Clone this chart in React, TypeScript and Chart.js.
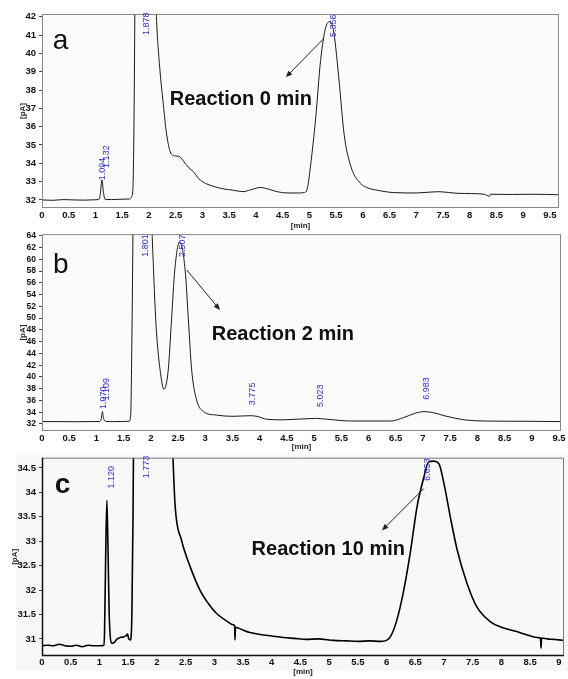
import React, { useEffect, useRef } from "react";
import { Chart, registerables } from "chart.js";

Chart.register(...registerables);

const FONT = '"Liberation Sans", Arial, Helvetica, sans-serif';

// ---------------- Panel a : Reaction 0 min ----------------
const timeA = [
  0.0, 0.2, 0.4, 0.6, 0.8, 1.0, 1.06, 1.09, 1.12, 1.15, 1.18, 1.3, 1.5, 1.64, 1.68, 1.7, 1.72, 1.74, 1.8, 1.9,
  2.0, 2.1, 2.14, 2.2, 2.27, 2.33, 2.42, 2.5, 2.58, 2.65, 2.75, 2.83, 2.92, 3.01, 3.2, 3.4, 3.58, 3.76, 3.9, 4.08,
  4.25, 4.4, 4.6, 4.8, 4.9, 4.96, 5.02, 5.12, 5.21, 5.31, 5.39, 5.46, 5.56, 5.65, 5.78, 5.96, 6.1, 6.27, 6.59, 7.0,
  7.4, 7.8, 8.27, 8.37, 8.39, 8.8, 9.2, 9.68,
];
const signalA = [
  32.0, 31.98, 32.02, 32.0, 31.99, 32.01, 32.02, 32.3, 33.1, 32.4, 32.03, 32.02, 32.04, 32.05, 32.2, 32.6, 36.0, 44.0, 80.0, 95.0,
  75.0, 46.0, 42.0, 39.3, 37.2, 35.6, 34.5, 34.4, 34.35, 34.1, 33.75, 33.55, 33.2, 32.98, 32.75, 32.6, 32.53, 32.45, 32.55, 32.68,
  32.58, 32.45, 32.38, 32.38, 32.4, 32.6, 33.8, 36.5, 39.6, 41.45, 41.73, 41.1, 38.4, 35.6, 33.8, 32.9, 32.65, 32.53, 32.4, 32.38,
  32.45, 32.36, 32.31, 32.2, 32.31, 32.3, 32.31, 32.28,
];
const xTicksA = [0, 0.5, 1, 1.5, 2, 2.5, 3, 3.5, 4, 4.5, 5, 5.5, 6, 6.5, 7, 7.5, 8, 8.5, 9, 9.5];
const yTicksA = [32, 33, 34, 35, 36, 37, 38, 39, 40, 41, 42];
const peakLabelsA = [
  { x: 1.13, y: 33.07, text: "1.094" },
  { x: 1.2, y: 33.75, text: "1.132" },
  { x: 1.955, y: 41.0, text: "1.878" },
  { x: 5.46, y: 40.9, text: "5.356" },
];

// ---------------- Panel b : Reaction 2 min ----------------
const timeB = [
  0.0, 0.3, 0.6, 0.9, 1.05, 1.09, 1.11, 1.13, 1.17, 1.3, 1.5, 1.6, 1.63, 1.65, 1.7, 1.85, 1.98, 2.02, 2.05, 2.08,
  2.11, 2.17, 2.24, 2.32, 2.38, 2.44, 2.53, 2.63, 2.69, 2.75, 2.84, 2.97, 3.21, 3.51, 3.82, 3.95, 4.13, 4.43, 5.03, 5.24,
  5.67, 6.41, 6.65, 6.85, 7.02, 7.2, 7.39, 7.76, 8.12, 9.0, 9.53,
];
const signalB = [
  32.4, 32.4, 32.38, 32.4, 32.42, 32.9, 34.1, 33.0, 32.45, 32.4, 32.42, 32.45, 33.5, 45.0, 90.0, 140.0, 90.0, 66.0, 58.2, 51.5,
  46.8, 41.2, 37.9, 41.2, 49.7, 58.2, 63.0, 58.2, 49.7, 41.2, 36.1, 34.1, 33.5, 33.3, 33.4, 33.3, 32.8, 32.7, 32.95, 32.8,
  32.5, 32.5, 33.1, 33.8, 34.1, 33.9, 33.4, 32.7, 32.5, 32.45, 32.4,
];
const xTicksB = [0, 0.5, 1, 1.5, 2, 2.5, 3, 3.5, 4, 4.5, 5, 5.5, 6, 6.5, 7, 7.5, 8, 8.5, 9, 9.5];
const yTicksB = [32, 34, 36, 38, 40, 42, 44, 46, 48, 50, 52, 54, 56, 58, 60, 62, 64];
const peakLabelsB = [
  { x: 1.13, y: 34.55, text: "1.070" },
  { x: 1.19, y: 36.0, text: "1.109" },
  { x: 1.906, y: 60.45, text: "1.801" },
  { x: 2.586, y: 60.4, text: "2.507" },
  { x: 3.866, y: 35.2, text: "3.775" },
  { x: 5.12, y: 34.9, text: "5.023" },
  { x: 7.07, y: 36.1, text: "6.983" },
];

// ---------------- Panel c : Reaction 10 min ----------------
const timeC = [
  0.0, 0.1, 0.2, 0.3, 0.4, 0.5, 0.6, 0.7, 0.8, 0.9, 1.0, 1.08, 1.09, 1.11, 1.13, 1.15, 1.17, 1.22, 1.27, 1.3,
  1.36, 1.42, 1.46, 1.49, 1.51, 1.54, 1.565, 1.585, 1.6, 1.8, 2.1, 2.25, 2.28, 2.32, 2.43, 2.58, 2.75, 2.9, 3.04, 3.2,
  3.33, 3.355, 3.36, 3.37, 3.5, 3.62, 3.8, 4.0, 4.2, 4.4, 4.6, 4.8, 5.08, 5.3, 5.5, 5.7, 5.9, 6.0, 6.07, 6.18,
  6.3, 6.42, 6.53, 6.65, 6.73, 6.82, 6.91, 7.0, 7.11, 7.23, 7.4, 7.57, 7.81, 8.0, 8.27, 8.45, 8.62, 8.68, 8.69, 8.7,
  8.8, 8.9, 9.0, 9.09,
];
const signalC = [
  30.86, 30.87, 30.86, 30.89, 30.86, 30.85, 30.87, 30.84, 30.87, 30.86, 30.86, 30.87, 31.2, 32.8, 33.84, 32.8, 31.5, 30.91, 30.94, 30.99,
  31.03, 31.04, 31.06, 31.1, 31.0, 30.98, 31.5, 33.5, 36.0, 60.0, 45.0, 36.0, 34.75, 33.7, 33.02, 32.48, 32.0, 31.72, 31.52, 31.38,
  31.29, 31.27, 30.98, 31.24, 31.18, 31.13, 31.09, 31.06, 31.03, 31.01, 30.99, 31.0, 30.97, 30.96, 30.95, 30.96, 30.95, 30.97, 31.05, 31.39,
  32.0, 32.82, 33.7, 34.31, 34.62, 34.64, 34.59, 34.18, 33.5, 32.82, 32.14, 31.66, 31.35, 31.24, 31.15, 31.08, 31.03, 31.02, 30.81, 31.02,
  31.0, 30.99, 30.98, 30.97,
];
const xTicksC = [0, 0.5, 1, 1.5, 2, 2.5, 3, 3.5, 4, 4.5, 5, 5.5, 6, 6.5, 7, 7.5, 8, 8.5, 9];
const yTicksC = [31, 31.5, 32, 32.5, 33, 33.5, 34, 34.5];
const peakLabelsC = [
  { x: 1.217, y: 34.08, text: "1.120" },
  { x: 1.826, y: 34.29, text: "1.773" },
  { x: 6.72, y: 34.24, text: "6.653" },
];

// annotation texts
const panelLetters = ["a", "b", "c"];
const reactionTitles = ["Reaction 0 min", "Reaction 2 min", "Reaction 10 min"];

type Pt = { x: number; y: number };
type Label = { x: number; y: number; text: string };

interface PanelSpec {
  top: number;
  height: number;
  padTop: number;
  padRight: number;
  xAxisH: number;
  xTickPad: number;
  xMin: number;
  xMax: number;
  yMin: number;
  yMax: number;
  time: number[];
  signal: number[];
  xTicks: number[];
  yTicks: number[];
  peakLabels: Label[];
  letter: string;
  letterPos: Pt;
  letterFont: string;
  title: string;
  titlePos: Pt;
  arrowFrom: Pt;
  arrowTo: Pt;
  lineWidth: number;
  lineColor: string;
  yTickFont: number;
  pALabelOffset: number;
  minLabelOffset: number;
  plotBg: string;
  canvasBg: string | null;
  frameDark: boolean;
}

const specs: PanelSpec[] = [
  {
    top: 0, height: 234, padTop: 14, padRight: 9, xAxisH: 26, xTickPad: 2,
    xMin: 0, xMax: 9.67, yMin: 31.56, yMax: 42.15,
    time: timeA, signal: signalA, xTicks: xTicksA, yTicks: yTicksA, peakLabels: peakLabelsA,
    letter: panelLetters[0], letterPos: { x: 0.2, y: 40.23 }, letterFont: `28px ${FONT}`,
    title: reactionTitles[0], titlePos: { x: 2.39, y: 37.17 },
    arrowFrom: { x: 5.26, y: 40.78 }, arrowTo: { x: 4.56, y: 38.7 },
    lineWidth: 1, lineColor: "#1a1a1a", yTickFont: 9.5,
    pALabelOffset: 19, minLabelOffset: 18, plotBg: "#fbfbfb", canvasBg: null, frameDark: false,
  },
  {
    top: 226, height: 228, padTop: 8, padRight: 7, xAxisH: 23, xTickPad: 2,
    xMin: 0, xMax: 9.537, yMin: 30.8, yMax: 64.3,
    time: timeB, signal: signalB, xTicks: xTicksB, yTicks: yTicksB, peakLabels: peakLabelsB,
    letter: panelLetters[1], letterPos: { x: 0.2, y: 57.68 }, letterFont: `28px ${FONT}`,
    title: reactionTitles[1], titlePos: { x: 3.12, y: 46.29 },
    arrowFrom: { x: 2.66, y: 58.2 }, arrowTo: { x: 3.27, y: 51.4 },
    lineWidth: 1, lineColor: "#1a1a1a", yTickFont: 8.5,
    pALabelOffset: 19, minLabelOffset: 16, plotBg: "#fbfbfb", canvasBg: null, frameDark: false,
  },
  {
    top: 449, height: 230, padTop: 8, padRight: 4, xAxisH: 23, xTickPad: 1,
    xMin: 0, xMax: 9.09, yMin: 30.65, yMax: 34.71,
    time: timeC, signal: signalC, xTicks: xTicksC, yTicks: yTicksC, peakLabels: peakLabelsC,
    letter: panelLetters[2], letterPos: { x: 0.22, y: 33.98 }, letterFont: `bold 28px ${FONT}`,
    title: reactionTitles[2], titlePos: { x: 3.65, y: 32.71 },
    arrowFrom: { x: 6.65, y: 34.08 }, arrowTo: { x: 5.92, y: 33.22 },
    lineWidth: 1.6, lineColor: "#000", yTickFont: 9.5,
    pALabelOffset: 27, minLabelOffset: 15.5, plotBg: "#f8f8f8", canvasBg: "#f7f7f7", frameDark: true,
  },
];

function drawArrow(ctx: CanvasRenderingContext2D, x1: number, y1: number, x2: number, y2: number) {
  const ang = Math.atan2(y2 - y1, x2 - x1);
  const head = 7;
  ctx.save();
  ctx.strokeStyle = "#222";
  ctx.fillStyle = "#222";
  ctx.lineWidth = 1;
  ctx.beginPath();
  ctx.moveTo(x1, y1);
  ctx.lineTo(x2 - Math.cos(ang) * head * 0.6, y2 - Math.sin(ang) * head * 0.6);
  ctx.stroke();
  ctx.beginPath();
  ctx.moveTo(x2, y2);
  ctx.lineTo(x2 - head * Math.cos(ang - 0.4), y2 - head * Math.sin(ang - 0.4));
  ctx.lineTo(x2 - head * Math.cos(ang + 0.4), y2 - head * Math.sin(ang + 0.4));
  ctx.closePath();
  ctx.fill();
  ctx.restore();
}

function makeDecorPlugin(p: PanelSpec) {
  return {
    id: "decor",
    beforeDraw(chart: any) {
      if (!p.canvasBg) return;
      const { ctx, width, height } = chart;
      ctx.save();
      ctx.fillStyle = p.canvasBg;
      ctx.fillRect(16, 6, width - 16, height - 14);
      ctx.restore();
    },
    beforeDatasetsDraw(chart: any) {
      const { ctx, chartArea } = chart;
      const { left, top, right, bottom } = chartArea;
      ctx.save();
      ctx.fillStyle = p.plotBg;
      ctx.fillRect(left, top, right - left, bottom - top);
      ctx.restore();
    },
    afterDatasetsDraw(chart: any) {
      const { ctx, chartArea, scales } = chart;
      const { left, top, right, bottom } = chartArea;
      const xs = scales.x;
      const ys = scales.y;
      ctx.save();
      // frame
      if (p.frameDark) {
        ctx.strokeStyle = "#777";
        ctx.lineWidth = 1;
        ctx.beginPath();
        ctx.moveTo(left, top + 0.5);
        ctx.lineTo(right - 0.5, top + 0.5);
        ctx.lineTo(right - 0.5, bottom);
        ctx.stroke();
        ctx.strokeStyle = "#111";
        ctx.lineWidth = 1.5;
        ctx.beginPath();
        ctx.moveTo(left + 0.5, top);
        ctx.lineTo(left + 0.5, bottom - 0.5);
        ctx.lineTo(right, bottom - 0.5);
        ctx.stroke();
      } else {
        ctx.strokeStyle = "#888";
        ctx.lineWidth = 1;
        ctx.strokeRect(left + 0.5, top + 0.5, right - left - 1, bottom - top - 1);
      }
      // peak labels (rotated, blue)
      ctx.fillStyle = "#2a2ae6";
      ctx.font = `9px ${FONT}`;
      ctx.textAlign = "left";
      ctx.textBaseline = "middle";
      for (const l of p.peakLabels) {
        const px = xs.getPixelForValue(l.x);
        const py = ys.getPixelForValue(l.y);
        ctx.save();
        ctx.translate(px, py);
        ctx.rotate(-Math.PI / 2);
        ctx.fillText(l.text, 0, 0);
        ctx.restore();
      }
      // panel letter
      ctx.fillStyle = "#111";
      ctx.font = p.letterFont;
      ctx.textBaseline = "alphabetic";
      ctx.fillText(p.letter, xs.getPixelForValue(p.letterPos.x), ys.getPixelForValue(p.letterPos.y));
      // reaction title
      ctx.font = `bold 20px ${FONT}`;
      ctx.fillText(p.title, xs.getPixelForValue(p.titlePos.x), ys.getPixelForValue(p.titlePos.y));
      // arrow
      drawArrow(
        ctx,
        xs.getPixelForValue(p.arrowFrom.x), ys.getPixelForValue(p.arrowFrom.y),
        xs.getPixelForValue(p.arrowTo.x), ys.getPixelForValue(p.arrowTo.y)
      );
      // axis titles
      ctx.fillStyle = "#222";
      ctx.font = `bold 8px ${FONT}`;
      ctx.textAlign = "center";
      ctx.textBaseline = "middle";
      ctx.fillText("[min]", (left + right) / 2, bottom + p.minLabelOffset);
      ctx.save();
      ctx.translate(left - p.pALabelOffset, (top + bottom) / 2);
      ctx.rotate(-Math.PI / 2);
      ctx.fillText("[pA]", 0, 0);
      ctx.restore();
      ctx.restore();
    },
  };
}

function Panel({ spec }: { spec: PanelSpec }) {
  const ref = useRef<HTMLCanvasElement>(null);
  useEffect(() => {
    const p = spec;
    const tickFont = { family: FONT, size: 9.5, weight: "bold" as const };
    const chart = new Chart(ref.current as HTMLCanvasElement, {
      type: "line",
      data: {
        datasets: [
          {
            data: p.time.map((t, i) => ({ x: t, y: p.signal[i] })),
            borderColor: p.lineColor,
            borderWidth: p.lineWidth,
            pointRadius: 0,
            fill: false,
            cubicInterpolationMode: "monotone",
          },
        ],
      },
      options: {
        animation: false,
        responsive: false,
        events: [],
        layout: { padding: { left: 0, right: p.padRight, top: p.padTop, bottom: 0 } },
        plugins: { legend: { display: false }, tooltip: { enabled: false } },
        scales: {
          x: {
            type: "linear",
            min: p.xMin,
            max: p.xMax,
            afterBuildTicks: (s: any) => {
              s.ticks = p.xTicks.map((v) => ({ value: v }));
            },
            afterFit: (s: any) => {
              s.height = p.xAxisH;
            },
            grid: { display: false, drawTicks: false },
            border: { display: false },
            ticks: {
              padding: p.xTickPad,
              autoSkip: false,
              maxRotation: 0,
              color: "#111",
              font: tickFont,
              callback: (v: any) => String(v),
            },
          },
          y: {
            type: "linear",
            min: p.yMin,
            max: p.yMax,
            afterBuildTicks: (s: any) => {
              s.ticks = p.yTicks.map((v) => ({ value: v }));
            },
            afterFit: (s: any) => {
              s.width = 42;
            },
            grid: { display: true, drawOnChartArea: false, drawTicks: true, tickLength: 3, color: "#444" },
            border: { display: false },
            ticks: {
              padding: 3,
              autoSkip: false,
              color: "#111",
              font: { family: FONT, size: p.yTickFont, weight: "bold" as const },
              callback: (v: any) => String(v),
            },
          },
        },
      },
      plugins: [makeDecorPlugin(p)],
    } as any);
    return () => chart.destroy();
  }, [spec]);
  return (
    <canvas
      ref={ref}
      width={568}
      height={spec.height}
      style={{ position: "absolute", left: 0, top: spec.top, width: 568, height: spec.height }}
    />
  );
}

export default function App() {
  return (
    <div
      style={{
        position: "absolute",
        left: 0,
        top: 0,
        width: 568,
        height: 679,
        background: "#ffffff",
        overflow: "hidden",
      }}
    >
      {specs.map((s, i) => (
        <Panel key={i} spec={s} />
      ))}
    </div>
  );
}
